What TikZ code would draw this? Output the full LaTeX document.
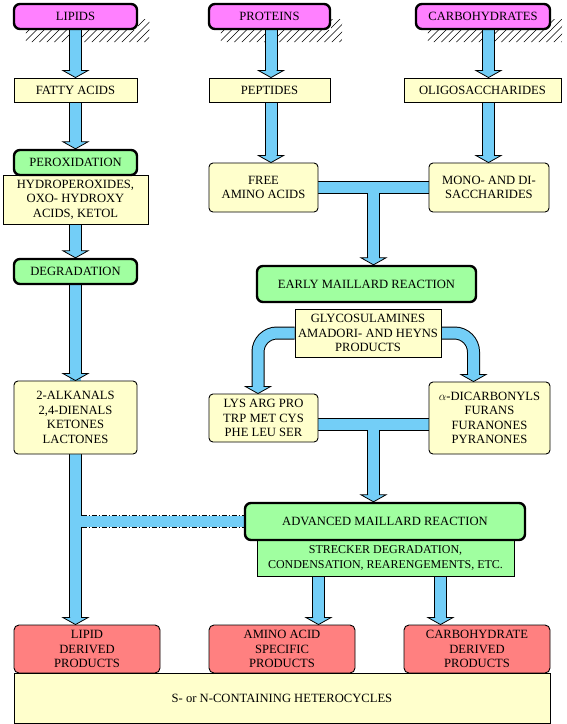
\documentclass[tikz,border=0pt]{standalone}
\usepackage{fontspec}
\setmainfont{Liberation Serif}
\usetikzlibrary{calc}
\pgfdeclarelayer{bg}
\pgfsetlayers{bg,main}
\definecolor{mag}{RGB}{255,128,255}
\definecolor{yel}{RGB}{255,255,204}
\definecolor{grn}{RGB}{160,255,160}
\definecolor{rd}{RGB}{255,128,128}
\definecolor{ablue}{RGB}{115,206,247}
\tikzset{
 box/.style={draw=black, line width=0.9pt, inner sep=0pt, align=center, font=\fontsize{12.6}{14.5}\selectfont},
 src/.style={box, fill=mag, line width=2.4pt, rounded corners=6pt},
 stage/.style={box, fill=grn, line width=2.4pt, rounded corners=6pt},
 prod/.style={box, fill=yel},
 rprod/.style={box, fill=yel, rounded corners=4pt},
 final/.style={box, fill=rd, rounded corners=5pt},
 note/.style={box, fill=grn, font=\fontsize{12}{14.5}\selectfont},
 hatchline/.style={draw=black, line width=0.5pt},
}
\newcommand\allshafts[1]{%
 \draw[#1] (lipids.south -| xl) -- ($(fatty.north -| xl)+(0,-6)$);
 \draw[#1] (proteins.south -| xp) -- ($(peptides.north -| xp)+(0,-6)$);
 \draw[#1] (carbo.south -| xc) -- ($(oligo.north -| xc)+(0,-6)$);
 \draw[#1] (fatty.south -| xl) -- ($(perox.north -| xl)+(0,-6)$);
 \draw[#1] (peptides.south -| xp) -- ($(free.north -| xp)+(0,-6)$);
 \draw[#1] (oligo.south -| xc) -- ($(mono.north -| xc)+(0,-6)$);
 \draw[#1] (hydro.south -| xl) -- ($(degr.north -| xl)+(0,-6)$);
 \draw[#1] (free.east) -- (mono.west);
 \draw[#1] (free.east -| xm) -- ($(early.north -| xm)+(0,-6)$);
 \draw[#1] (degr.south -| xl) -- ($(alk.north -| xl)+(0,-6)$);
 \draw[#1, rounded corners=19pt] (glyco.west) -| ($(lys.north -| xk)+(0,-6)$);
 \draw[#1, rounded corners=19pt] (glyco.east) -| ($(alpha.north -| xa)+(0,-6)$);
 \draw[#1] ($(lys.east)+(0,6.5)$) -- ($(alpha.west)+(0,6.5)$);
 \draw[#1] ($(lys.east -| xm)+(0,6.5)$) -- ($(adv.north -| xm)+(0,-6)$);
 \draw[#1] (alk.south -| xl) -- ($(lipidp.north -| xl)+(0,-6)$);
 \draw[#1] (strk.south -| xs1) -- ($(aminop.north -| xs1)+(0,-6)$);
 \draw[#1] (strk.south -| xs2) -- ($(carbp.north -| xs2)+(0,-6)$);
}
\newcommand\head[1]{\filldraw[fill=ablue, draw=black, line width=0.8pt] ($(#1)+(-5.5,-7)$) -- ++(-7,0) -- (#1) -- ++(12.5,-7) -- ++(-7,0);}
\newcommand\hatchunder[1]{%
 \begin{scope}
 \clip ($(#1.south west)+(13,0)$) rectangle ($(#1.south east)+(11,12)$)
       ($(#1.south east)+(0,-11)$) rectangle ($(#1.south east)+(11.1,0.1)$);
 \foreach \i in {0,...,22} \draw[hatchline] ($(#1.south west)+(4+\i*7.5,12)$) -- ++(24,-24);
 \end{scope}}
\begin{document}
\begin{tikzpicture}[x=1pt,y=-1pt]
\useasboundingbox (0,0) rectangle (566,724);
% column coordinates for connectors
\coordinate (xl) at (75.5,0);
\coordinate (xp) at (271,0);
\coordinate (xc) at (488.5,0);
\coordinate (xm) at (373.5,0);
\coordinate (xk) at (258,0);
\coordinate (xa) at (473.5,0);
\coordinate (xs1) at (318.5,0);
\coordinate (xs2) at (440.5,0);
% nodes
\node[src, minimum width=123pt, minimum height=25pt] (lipids) at (75.5,16.5) {LIPIDS};
\node[src, minimum width=121pt, minimum height=25pt] (proteins) at (269.5,16.5) {PROTEINS};
\node[src, minimum width=134pt, minimum height=25pt] (carbo) at (483,16.5) {CARBOHYDRATES};
\node[prod, minimum width=123pt, minimum height=24pt] (fatty) at (75.5,90) {FATTY ACIDS};
\node[prod, minimum width=121pt, minimum height=24pt] (peptides) at (269.5,90) {PEPTIDES};
\node[prod, minimum width=157pt, minimum height=24pt] (oligo) at (482.5,90) {OLIGOSACCHARIDES};
\node[prod, minimum width=145pt, minimum height=49pt] (hydro) at (75.5,199.5) {HYDROPEROXIDES,\\OXO- HYDROXY\\ACIDS, KETOL};
\node[stage, minimum width=123pt, minimum height=25pt] (perox) at (75.5,162.5) {PEROXIDATION};
\node[stage, minimum width=123pt, minimum height=25pt] (degr) at (75.5,271.5) {DEGRADATION};
\node[rprod, minimum width=109pt, minimum height=49pt] (free) at (263.5,187.5) {FREE\\AMINO ACIDS};
\node[rprod, minimum width=120pt, minimum height=49pt] (mono) at (489,187.5) {MONO- AND DI-\\SACCHARIDES};
\node[stage, minimum width=219pt, minimum height=36pt] (early) at (366.5,284) {EARLY MAILLARD REACTION};
\node[prod, minimum width=146pt, minimum height=48pt] (glyco) at (368,333) {GLYCOSULAMINES\\AMADORI- AND HEYNS\\PRODUCTS};
\node[rprod, minimum width=123pt, minimum height=73pt] (alk) at (75.5,417.5) {2-ALKANALS\\2,4-DIENALS\\KETONES\\LACTONES};
\node[rprod, minimum width=109pt, minimum height=48pt] (lys) at (263.5,418) {LYS ARG PRO\\TRP MET CYS\\PHE LEU SER};
\node[rprod, minimum width=121pt, minimum height=72pt] (alpha) at (489.5,418) {$\alpha$-DICARBONYLS\\FURANS\\FURANONES\\PYRANONES};
\node[note, minimum width=257pt, minimum height=36pt] (strk) at (385.5,558) {STRECKER DEGRADATION,\\CONDENSATION, REARENGEMENTS, ETC.};
\node[stage, minimum width=280pt, minimum height=37pt] (adv) at (385,521.5) {ADVANCED MAILLARD REACTION};
\node[final, minimum width=146pt, minimum height=48pt] (lipidp) at (87,649) {LIPID\\DERIVED\\PRODUCTS};
\node[final, minimum width=146pt, minimum height=48pt] (aminop) at (282,649) {AMINO ACID\\SPECIFIC\\PRODUCTS};
\node[final, minimum width=146pt, minimum height=48pt] (carbp) at (477,649) {CARBOHYDRATE\\DERIVED\\PRODUCTS};
\node[prod, minimum width=536pt, minimum height=50pt] (sn) at (282,698) {S- or N-CONTAINING HETEROCYCLES};
% background: hatching and connectors
\begin{pgfonlayer}{bg}
 \fill[white] (0,0) rectangle (566,724);
 \hatchunder{lipids}
 \hatchunder{proteins}
 \hatchunder{carbo}
 \allshafts{line width=13pt, black}
 \draw[line width=13pt, black] (adv.west -| xl) -- (adv.west);
 \allshafts{line width=11pt, ablue}
 \draw[line width=11pt, ablue] (adv.west -| xl) -- (adv.west);
 \draw[line width=11pt, ablue] ($(degr.south -| xl)+(0,90)$) -- ($(lipidp.north -| xl)+(0,-6)$);
 \fill[white] ($(adv.west -| xl)+(6.5,-6.6)$) rectangle ($(adv.west)+(0,-5.5)$);
 \fill[white] ($(adv.west -| xl)+(6.5,6.6)$) rectangle ($(adv.west)+(0,5.5)$);
 \draw[black, line width=0.8pt, dash pattern=on 5pt off 2pt on 1pt off 2pt] ($(adv.west -| xl)+(6,-6)$) -- ($(adv.west)+(0,-6)$);
 \draw[black, line width=0.8pt, dash pattern=on 5pt off 2pt on 1pt off 2pt] ($(adv.west -| xl)+(6,6)$) -- ($(adv.west)+(0,6)$);
 \head{fatty.north -| xl}
 \head{peptides.north -| xp}
 \head{oligo.north -| xc}
 \head{perox.north -| xl}
 \head{free.north -| xp}
 \head{mono.north -| xc}
 \head{degr.north -| xl}
 \head{early.north -| xm}
 \head{alk.north -| xl}
 \head{lys.north -| xk}
 \head{alpha.north -| xa}
 \head{adv.north -| xm}
 \head{lipidp.north -| xl}
 \head{aminop.north -| xs1}
 \head{carbp.north -| xs2}
\end{pgfonlayer}
\end{tikzpicture}
\end{document}
